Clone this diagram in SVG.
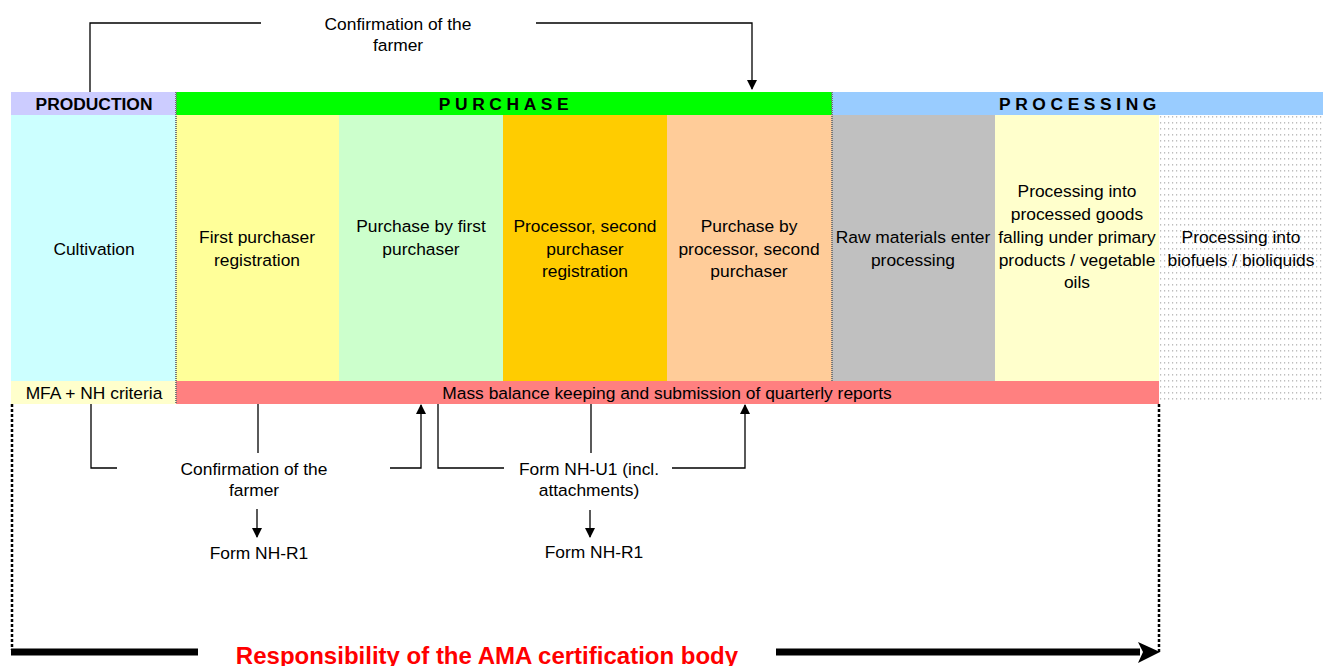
<svg xmlns="http://www.w3.org/2000/svg" width="1330" height="666" viewBox="0 0 1330 666">
<style>
text{font-family:"Liberation Sans",Arial,sans-serif;font-size:17.4px;fill:#000;text-anchor:middle}
.hd{font-weight:bold;font-size:17.4px}
.sp{letter-spacing:4.6px}
.red{fill:#FF0000;font-weight:bold;font-size:24px}
.ln{stroke:#000;stroke-width:1.3;fill:none}
.sep{stroke:#777;stroke-width:2;stroke-dasharray:1 1}
.dot{stroke:#000;stroke-width:2.5;stroke-dasharray:3 2;fill:none}
</style>
<defs>
<pattern id="dots" x="1159" y="115" width="4" height="6" patternUnits="userSpaceOnUse">
<rect x="1" y="1" width="1.2" height="1.6" fill="#BEBEBE"/>
</pattern>
<marker id="ah" markerWidth="10" markerHeight="10" refX="9" refY="5" orient="auto" markerUnits="userSpaceOnUse">
<path d="M0,0 L10,5 L0,10 Z" fill="#000"/>
</marker>
</defs>
<rect width="1330" height="666" fill="#fff"/>
<g id="header-production"><rect x="11" y="92" width="165" height="23" fill="#CCCCFF"/><text class="hd" x="94" y="109.5">PRODUCTION</text></g>
<g id="header-purchase"><rect x="176" y="92" width="656" height="23" fill="#00FF00"/><text class="hd sp" x="506" y="109.5">PURCHASE</text></g>
<g id="header-processing"><rect x="832" y="92" width="491" height="23" fill="#99CCFF"/><text class="hd sp" x="1080" y="109.5">PROCESSING</text></g>
<g id="cultivation"><rect x="11" y="115" width="165" height="266" fill="#CCFFFF"/><text x="94" y="255">Cultivation</text></g>
<g id="first-purchaser-registration"><rect x="176" y="115" width="163" height="266" fill="#FFFF99"/><text x="257" y="243">First purchaser</text><text x="257" y="266">registration</text></g>
<g id="purchase-first"><rect x="339" y="115" width="164" height="266" fill="#CCFFCC"/><text x="421" y="232">Purchase by first</text><text x="421" y="255">purchaser</text></g>
<g id="processor-registration"><rect x="503" y="115" width="164" height="266" fill="#FFCC00"/><text x="585" y="232">Processor, second</text><text x="585" y="255">purchaser</text><text x="585" y="277">registration</text></g>
<g id="purchase-processor"><rect x="667" y="115" width="165" height="266" fill="#FFCC99"/><text x="749" y="232">Purchase by</text><text x="749" y="255">processor, second</text><text x="749" y="277">purchaser</text></g>
<g id="raw-materials"><rect x="832" y="115" width="163" height="266" fill="#C0C0C0"/><text x="913" y="243">Raw materials enter</text><text x="913" y="266">processing</text></g>
<g id="processed-goods"><rect x="995" y="115" width="164" height="266" fill="#FFFFCC"/><text x="1077" y="197">Processing into</text><text x="1077" y="220">processed goods</text><text x="1077" y="243">falling under primary</text><text x="1077" y="266">products / vegetable</text><text x="1077" y="288">oils</text></g>
<g id="biofuels"><rect x="1159" y="115" width="164" height="289" fill="url(#dots)"/><text x="1241" y="243">Processing into</text><text x="1241" y="266">biofuels / bioliquids</text></g>
<g id="mfa"><rect x="11" y="381" width="165" height="23" fill="#FFFFCC"/><text x="94" y="398.5">MFA + NH criteria</text></g>
<g id="mass-balance"><rect x="176" y="381" width="983" height="23" fill="#FF8080"/><text x="667" y="398.5">Mass balance keeping and submission of quarterly reports</text></g>
<g id="separators"><line class="sep" x1="176" y1="92" x2="176" y2="404"/><line class="sep" x1="832" y1="92" x2="832" y2="381"/></g>
<g id="labels">
<text x="398" y="30">Confirmation of the</text><text x="398" y="51">farmer</text>
<text x="254" y="475">Confirmation of the</text><text x="254" y="496">farmer</text>
<text x="589" y="475">Form NH-U1 (incl.</text><text x="589" y="496">attachments)</text>
<text x="259" y="559">Form NH-R1</text>
<text x="594" y="558">Form NH-R1</text>
<text class="red" x="487" y="664">Responsibility of the AMA certification body</text>
</g>
<g id="connectors">
<polyline class="ln" points="90,92 90,23 261,23"/>
<polyline class="ln" points="536,23 752,23 752,89" marker-end="url(#ah)"/>
<polyline class="ln" points="91,404 91,468 117,468"/>
<line class="ln" x1="258" y1="404" x2="258" y2="453"/>
<polyline class="ln" points="390,468 421,468 421,405" marker-end="url(#ah)"/>
<polyline class="ln" points="438,404 438,468 504,468"/>
<line class="ln" x1="591" y1="404" x2="591" y2="453"/>
<polyline class="ln" points="672,468 745,468 745,405" marker-end="url(#ah)"/>
<line class="ln" x1="257" y1="509" x2="257" y2="537" marker-end="url(#ah)"/>
<line class="ln" x1="590" y1="510" x2="590" y2="537" marker-end="url(#ah)"/>
<line class="dot" x1="12" y1="404" x2="12" y2="650"/>
<line class="dot" x1="1159" y1="404" x2="1159" y2="652"/>
<line x1="11" y1="652" x2="198" y2="652" stroke="#000" stroke-width="7"/>
<line x1="776" y1="652" x2="1140" y2="652" stroke="#000" stroke-width="7"/>
<path d="M1138,642 L1160,652 L1138,663 L1143,652 Z" fill="#000"/>
</g>
</svg>
